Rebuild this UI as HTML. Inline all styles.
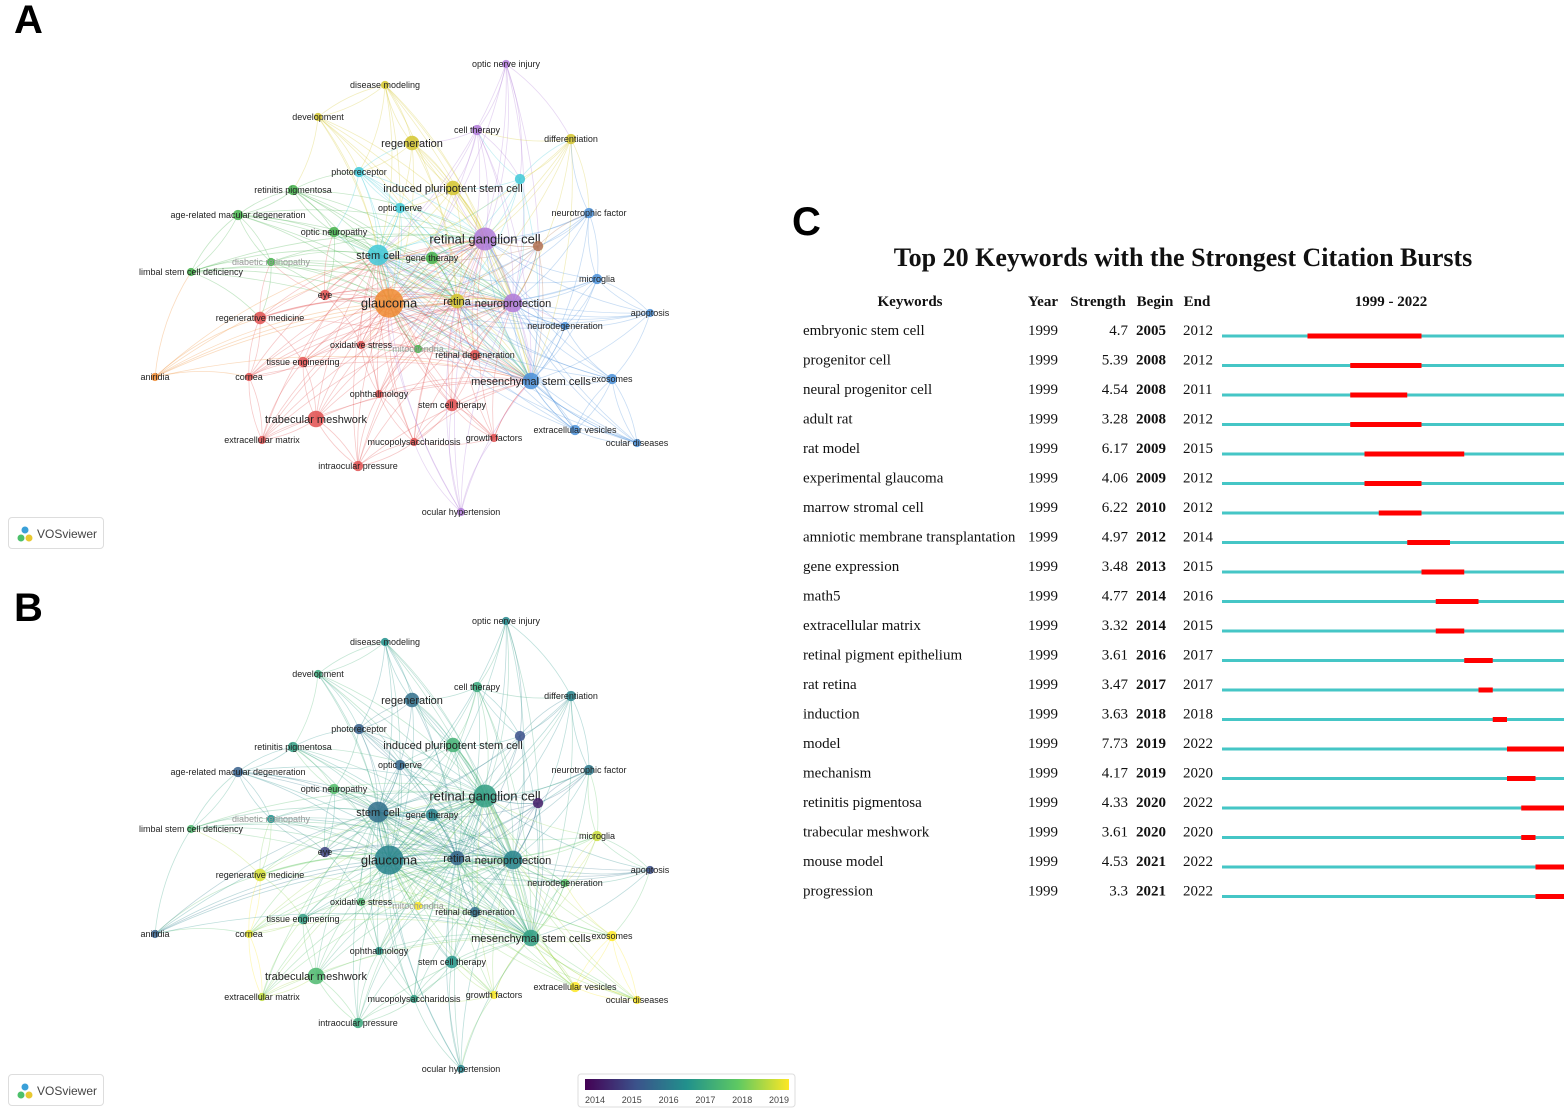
<!DOCTYPE html>
<html><head><meta charset="utf-8">
<style>
body{margin:0;width:1568px;height:1116px;background:#fff;overflow:hidden;position:relative;font-family:"Liberation Sans",sans-serif}
.plabel{position:absolute;font-weight:bold;font-size:40px;font-family:"Liberation Sans",sans-serif}
.vos{position:absolute;width:96px;height:32px;border:1px solid #ddd;border-radius:4px;font-size:12px;color:#444;box-sizing:border-box;padding:9px 0 0 28px;background:#fff}
.vos .ic{position:absolute;left:8px;top:8px;width:16px;height:16px}
svg{position:absolute;left:0;top:0}
</style></head><body>
<div class="plabel" style="left:14px;top:-2px">A</div>
<div class="plabel" style="left:14px;top:586px">B</div>
<div class="plabel" style="left:792px;top:200px">C</div>
<div class="vos" style="left:8px;top:517px"><svg class="ic" viewBox="0 0 16 16"><circle cx="8" cy="4" r="3.5" fill="#3aa0d8"/><circle cx="4" cy="12" r="3.5" fill="#4cc06a"/><circle cx="12" cy="12" r="3.5" fill="#e8c830"/></svg>VOSviewer</div>
<div class="vos" style="left:8px;top:1074px"><svg class="ic" viewBox="0 0 16 16"><circle cx="8" cy="4" r="3.5" fill="#3aa0d8"/><circle cx="4" cy="12" r="3.5" fill="#4cc06a"/><circle cx="12" cy="12" r="3.5" fill="#e8c830"/></svg>VOSviewer</div>
<svg id="net" width="800" height="1116"></svg>
<svg id="burst" width="1568" height="1116" style="pointer-events:none"></svg>
<script>
const nodeLabels=["optic nerve injury","disease modeling","development","cell therapy","differentiation","regeneration","photoreceptor","retinitis pigmentosa","induced pluripotent stem cell","","age-related macular degeneration","neurotrophic factor","optic nerve","optic neuropathy","retinal ganglion cell","stem cell","gene therapy","diabetic retinopathy","limbal stem cell deficiency","microglia","","eye","glaucoma","retina","neuroprotection","apoptosis","regenerative medicine","neurodegeneration","oxidative stress","mitochondria","retinal degeneration","tissue engineering","aniridia","cornea","mesenchymal stem cells","exosomes","ophthalmology","stem cell therapy","trabecular meshwork","extracellular vesicles","extracellular matrix","growth factors","mucopolysaccharidosis","ocular diseases","intraocular pressure","ocular hypertension"];
const nodeX=[506,385,318,477,571,412,359,293,453,520,238,589,400,334,485,378,432,271,191,597,538,325,389,457,513,650,260,565,361,418,475,303,155,249,531,612,379,452,316,575,262,494,414,637,358,461];
const nodeY=[64,85,117,130,139,143,172,190,188,179,215,213,208,232,239,255,258,262,272,279,246,295,303,301,303,313,318,326,345,349,355,362,377,377,381,379,394,405,419,430,440,438,442,443,466,512];
const nodeCluster=[4,3,3,4,3,3,5,1,3,5,1,2,5,1,4,5,1,1,1,2,6,0,7,3,4,2,0,2,0,1,0,0,7,0,2,2,0,0,0,2,0,0,0,2,0,4];
const nodeWeight=[2,2,2,3,3,5,3,3,5,3,3,3,3,3,9,8,4,2,2,3,3,3,12,5,7,2,4,2,2,2,3,3,2,2,6,3,2,4,6,3,2,2,2,2,3,2];
const nodeYear=[2016.3,2016.5,2017,2017,2016.2,2015.8,2015.5,2016.8,2017.2,2015.2,2015.5,2016,2015.6,2017.5,2016.8,2015.8,2016.2,2016.5,2017.4,2018.6,2014.4,2015,2016.2,2015.6,2016.2,2015.2,2018.7,2017.6,2017.4,2019,2015.8,2016.8,2015.5,2018.8,2016.8,2019,2016.6,2016.6,2017.4,2019,2018.5,2019,2016.8,2019,2017,2016.2];
const clusterColors=["#e05050","#43b04a","#4a90d9","#d4c62e","#b07ad8","#3fc9d8","#b07050","#f08a30"];
const hubs=[22,15,14,23,24,34];
const viridis=[[68,1,84],[59,82,139],[33,145,140],[94,201,98],[253,231,37]];
function yearColor(y){let t=Math.max(0,Math.min(1,(y-2014)/5))*4;let i=Math.min(3,Math.floor(t)),f=t-i;const a=viridis[i],b=viridis[i+1];return `rgb(${a.map((v,k)=>Math.round(v+(b[k]-v)*f)).join(',')})`;}
const NS="http://www.w3.org/2000/svg";
const net=document.getElementById('net');
function mk(tag,attrs,parent){const e=document.createElementNS(NS,tag);for(const k in attrs)e.setAttribute(k,attrs[k]);parent.appendChild(e);return e;}
const edges=[];
nodeX.forEach((x,i)=>{const d=nodeX.map((x2,j)=>[j,Math.hypot(x2-x,nodeY[j]-nodeY[i])]).filter(p=>p[0]!==i).sort((a,b)=>a[1]-b[1]);d.slice(0,3).forEach(p=>edges.push([i,p[0]]));hubs.forEach(h=>{if(h!==i)edges.push([i,h]);});});
function drawPanel(dy,mode,gname){
  const g=mk('g',{},net);
  
  
  edges.forEach(([a,b])=>{
    const col=mode==='cluster'?clusterColors[nodeCluster[a]]:yearColor((nodeYear[a]+nodeYear[b])/2+0.4);
    const x1=nodeX[a],y1=nodeY[a]+dy,x2=nodeX[b],y2=nodeY[b]+dy;
    const mx=(x1+x2)/2+(y2-y1)*0.12,my=(y1+y2)/2-(x2-x1)*0.12;
    const p=mk('path',{d:`M${x1},${y1}Q${mx},${my} ${x2},${y2}`,fill:'none',stroke:col,'stroke-width':0.8,'stroke-opacity':0.3},g);
    
    
  });
  nodeX.forEach((x,i)=>{
    const col=mode==='cluster'?clusterColors[nodeCluster[i]]:yearColor(nodeYear[i]);
    const r=2+nodeWeight[i]*1.05;
    const c=mk('circle',{cx:x,cy:nodeY[i]+dy,r:r,fill:col,'fill-opacity':0.85},g);
    
    
    if(nodeLabels[i]){
      const fs=nodeWeight[i]>=9?13:nodeWeight[i]>=5?11:9;
      const t=mk('text',{x:x,y:nodeY[i]+dy+fs*0.35,'font-size':fs,'text-anchor':'middle',fill:nodeLabels[i]==='diabetic retinopathy'||nodeLabels[i]==='mitochondria'?'#999':'#222','font-family':'Liberation Sans, sans-serif'},g);
      t.textContent=nodeLabels[i];
      
      
    }
  });
}
drawPanel(0,'cluster','network-clusters-a');
drawPanel(557,'year','network-overlay-b');
const legYears=[2014,2015,2016,2017,2018,2019];
const lg=mk('g',{},net);


mk('rect',{x:578,y:1074,width:217,height:33,fill:'#fff',stroke:'#ddd',rx:3},lg);
const defs=mk('defs',{},lg);const gr=mk('linearGradient',{id:'vg'},defs);
viridis.forEach((c,i)=>mk('stop',{offset:i/4,'stop-color':`rgb(${c.join(',')})`},gr));
mk('rect',{x:585,y:1079,width:204,height:11,fill:'url(#vg)'},lg);
legYears.forEach((y,i)=>{const x=595+i*36.8;const t=mk('text',{x:x,y:1103,'font-size':9,'text-anchor':'middle',fill:'#444'},lg);t.textContent=y;});

const keywords=["embryonic stem cell","progenitor cell","neural progenitor cell","adult rat","rat model","experimental glaucoma","marrow stromal cell","amniotic membrane transplantation","gene expression","math5","extracellular matrix","retinal pigment epithelium","rat retina","induction","model","mechanism","retinitis pigmentosa","trabecular meshwork","mouse model","progression"];
const strengths=["4.7","5.39","4.54","3.28","6.17","4.06","6.22","4.97","3.48","4.77","3.32","3.61","3.47","3.63","7.73","4.17","4.33","3.61","4.53","3.3"];
const beginYears=[2005,2008,2008,2008,2009,2009,2010,2012,2013,2014,2014,2016,2017,2018,2019,2019,2020,2020,2021,2021];
const endYears=[2012,2012,2011,2012,2015,2012,2012,2014,2015,2016,2015,2017,2017,2018,2022,2020,2022,2020,2022,2022];
const yearStart=1999,yearEnd=2022;
const bs=document.getElementById('burst');
const bx0=1222,bx1=1564;
function xScale(y){return bx0+(y-yearStart)*(bx1-bx0)/(yearEnd-yearStart+1);}
function yRow(i){return 330+i*29.5;}
const F='Liberation Serif, serif';
function txt(s,x,y,o){const t=mk('text',Object.assign({x:x,y:y,'font-family':F,'font-size':15,fill:'#111'},o||{}),bs);t.textContent=s;return t;}
let tt=txt('Top 20 Keywords with the Strongest Citation Bursts',1183,266,{'font-size':26,'font-weight':'bold','text-anchor':'middle'});

[['Keywords',910,'middle'],['Year',1043,'middle'],['Strength',1098,'middle'],['Begin',1155,'middle'],['End',1197,'middle'],[yearStart+' - '+yearEnd,1391,'middle']].forEach(h=>{
  const t=txt(h[0],h[1],306,{'font-weight':'bold','text-anchor':h[2],'font-size':15});
  });
keywords.forEach((k,i)=>{
  const y=yRow(i)+5;
  const a=txt(k,803,y);
  txt(String(yearStart),1028,y);
  txt(strengths[i],1128,y,{'text-anchor':'end'});
  txt(String(beginYears[i]),1136,y,{'font-weight':'bold'});
  txt(String(endYears[i]),1183,y);
  const ly=yRow(i)+6;
  const l=mk('line',{x1:bx0,x2:bx1,y1:ly,y2:ly,stroke:'#45c6c6','stroke-width':3},bs);
  
  const r=mk('rect',{x:xScale(beginYears[i]),y:ly-2.5,width:xScale(endYears[i]+1)-xScale(beginYears[i]),height:5,fill:'#ff0000'},bs);
  
});
</script>
</body></html>
